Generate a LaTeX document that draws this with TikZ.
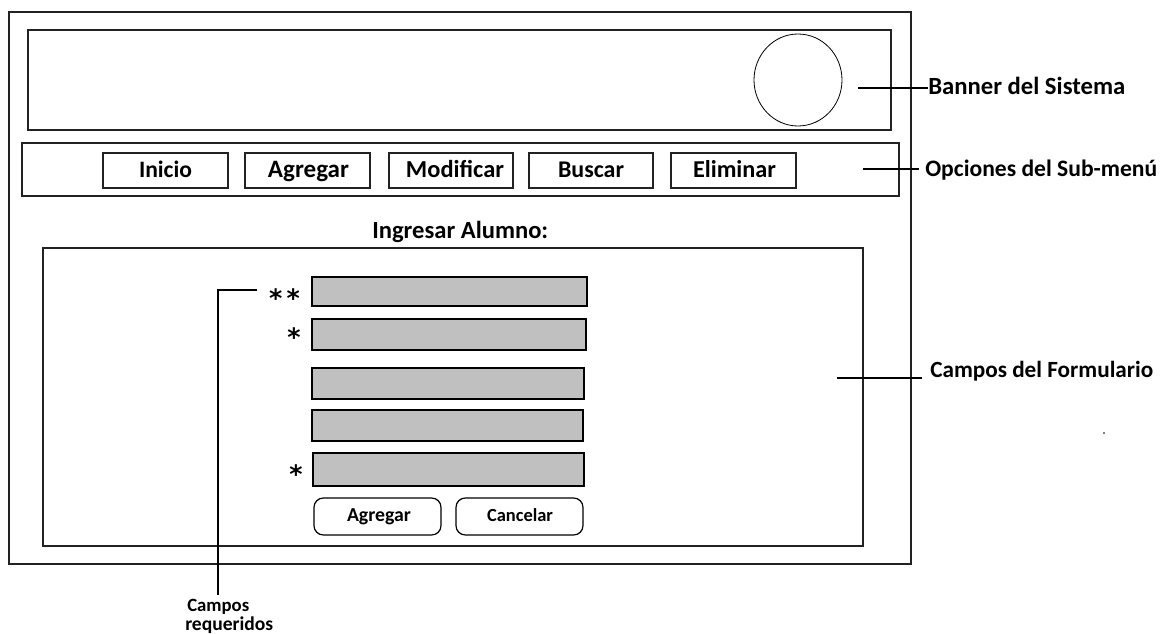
\documentclass[tikz,border=0pt]{standalone}
\usepackage{fontspec}
\setmainfont{Carlito}
\newfontfamily\symfont{DejaVu Sans}
\usetikzlibrary{fit}
\newlength{\pxu}\setlength{\pxu}{0.75pt}
\newcommand{\fitw}[2]{\resizebox{#1\pxu}{!}{\bfseries #2}}
\definecolor{fieldgray}{HTML}{C0C0C0}
\definecolor{linegray}{HTML}{222222}
\tikzset{
  frame/.style={draw=linegray, line width=0.9pt},
  boxnode/.style={draw=linegray, line width=0.9pt, inner sep=0pt},
  field/.style={draw=black, fill=fieldgray, line width=1.1pt, inner sep=0pt},
  roundbtn/.style={draw=black, line width=0.9pt, rounded corners=7pt, inner sep=0pt},
  lbl/.style={inner sep=0pt, anchor=base west},
  clbl/.style={inner sep=0pt, anchor=base},
  star/.style={inner sep=0pt, anchor=north, font=\symfont\bfseries\fontsize{19pt}{19pt}\selectfont},
  leader/.style={draw=black, line width=0.8pt}
}
\begin{document}
\begin{tikzpicture}[x=0.75pt,y=-0.75pt]
\useasboundingbox (0,0) rectangle (1172,634);

% outer frame
\node (outer) [boxnode, fit={(9,12)(911,564)}] {};
% banner
\node (banner) [boxnode, fit={(28,30)(891,130)}] {};
\draw[line width=0.6pt] (798,80) ellipse [x radius=33pt, y radius=34.5pt];
% menu
\node (menu) [boxnode, fit={(22,143)(899,196)}] {};
\node (b1) [boxnode, fit={(103,153)(228,188)}] {};
\node (b2) [boxnode, fit={(245,153)(370,188)}] {};
\node (b3) [boxnode, fit={(389,153)(513,188)}] {};
\node (b4) [boxnode, fit={(529,153)(653,188)}] {};
\node (b5) [boxnode, fit={(671,153)(796,188)}] {};
\node[clbl] at (165.5,178) {\fitw{53}{Inicio}};
\node[clbl] at (308.5,178) {\fitw{81}{Agregar}};
\node[clbl] at (455,178) {\fitw{98}{Modificar}};
\node[clbl] at (591,178) {\fitw{66}{Buscar}};
\node[clbl] at (734.5,178) {\fitw{83}{Eliminar}};

% title
\node (title) [lbl] at (372,239) {\fitw{176}{Ingresar Alumno:}};

% form
\node (form) [boxnode, fit={(43,248)(863,546)}] {};
\node (f1) [field, fit={(312,277)(587,306)}] {};
\node (f2) [field, fit={(312,319)(586,350)}] {};
\node (f3) [field, fit={(312,368)(584,399)}] {};
\node (f4) [field, fit={(312,410)(583,441)}] {};
\node (f5) [field, fit={(313,453)(584,486)}] {};
\node (s1) [star] at (284.5,288.5) {*\kern0.17em*};
\node (s2) [star] at (294,327) {*};
\node (s3) [star] at (296,464.5) {*};
\node (add) [roundbtn, fit={(314,498)(441,535)}] {};
\node (cancel) [roundbtn, fit={(456,498)(583,535)}] {};
\node[clbl] at (379,522) {\fitw{64}{Agregar}};
\node[clbl] at (520,522) {\fitw{66}{Cancelar}};

% labels
\node (lbanner) [lbl] at (928,95) {\fitw{197}{Banner del Sistema}};
\node (lmenu) [lbl] at (925,177) {\fitw{232}{Opciones del Sub-men\'u}};
\node (lform) [lbl] at (930,378) {\fitw{223}{Campos del Formulario}};
\node (lreq1) [lbl] at (187,612) {\fitw{62}{Campos}};
\node (lreq2) [lbl] at (185,630) {\fitw{88}{requeridos}};

% leader lines
\coordinate (cb) at (858,88);
\coordinate (cm) at (863,169);
\coordinate (cf) at (837,378);
\coordinate (cr) at (257,290);
\coordinate (crk) at (218,290);
\coordinate (crb) at (218,595);
\draw[leader] (cb) -- (lbanner.west |- cb);
\draw[leader] (cm) -- (919,169);
\draw[leader] (cf) -- (922,378);
\draw[leader] (cr) -- (crk) -- (crb);

% stray dot
\fill (1104,433) circle [radius=0.6pt];
\end{tikzpicture}
\end{document}
